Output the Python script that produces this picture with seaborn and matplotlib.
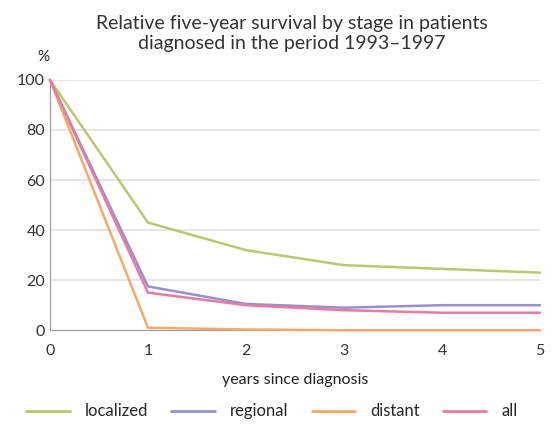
import seaborn as sns
import matplotlib.pyplot as plt
import pandas as pd

years = [0, 1, 2, 3, 4, 5]
localized = [100, 43, 32, 26, 24.5, 23]
regional = [100, 17.5, 10.5, 9, 10, 10]
distant = [100, 1, 0.3, 0, 0, 0]
all_stages = [100, 15, 10, 8, 7, 7]

series = {'localized': localized, 'regional': regional, 'distant': distant, 'all': all_stages}
colors = {'localized': '#b8c96e', 'regional': '#9590d2', 'distant': '#f4aa6a', 'all': '#ea7aa0'}

rows = []
for name, vals in series.items():
    for x, v in zip(years, vals):
        rows.append({'year': x, 'value': v, 'stage': name})
df = pd.DataFrame(rows)

sns.set_style('white')
plt.rcParams['font.family'] = ['Lato', 'DejaVu Sans']

fig = plt.figure(figsize=(5.55, 4.25), dpi=100)
ax = fig.add_axes([0.09, 0.223, 0.883, 0.589])

for y in [20, 40, 60, 80, 100]:
    ax.axhline(y, color='#e2e2e2', lw=1.2, zorder=0)

sns.lineplot(data=df, x='year', y='value', hue='stage', palette=colors,
             linewidth=1.8, ax=ax, legend=False, clip_on=False, zorder=3)

ax.set_xlim(0, 5)
ax.set_ylim(0, 100)
ax.set_xticks(years)
ax.set_yticks([0, 20, 40, 60, 80, 100])
ax.tick_params(axis='both', labelsize=11.5, colors='#333333', length=4, width=0.8)
ax.tick_params(axis='y', length=0)
ax.tick_params(axis='x', color='#999999', pad=6)
for s in ['top', 'right']:
    ax.spines[s].set_visible(False)
for s in ['left', 'bottom']:
    ax.spines[s].set_color('#999999')
    ax.spines[s].set_linewidth(0.8)

ax.set_xlabel('years since diagnosis', fontsize=11.5, color='#222222', labelpad=11)
ax.set_ylabel('')

fig.text(0.525, 0.965, 'Relative five-year survival by stage in patients\ndiagnosed in the period 1993\u20131997',
         ha='center', va='top', fontsize=14, color='#333333', linespacing=1.2)
fig.text(0.078, 0.865, '%', ha='center', va='center', fontsize=11, color='#222222')

handles = [plt.Line2D([0], [0], color=colors[k], lw=2) for k in series]
fig.legend(handles, list(series.keys()), loc='lower center', ncol=4, frameon=False,
           bbox_to_anchor=(0.49, -0.022), fontsize=12, handlelength=2.6, columnspacing=1.4,
           handletextpad=0.9)

plt.savefig('out.png', dpi=100)
